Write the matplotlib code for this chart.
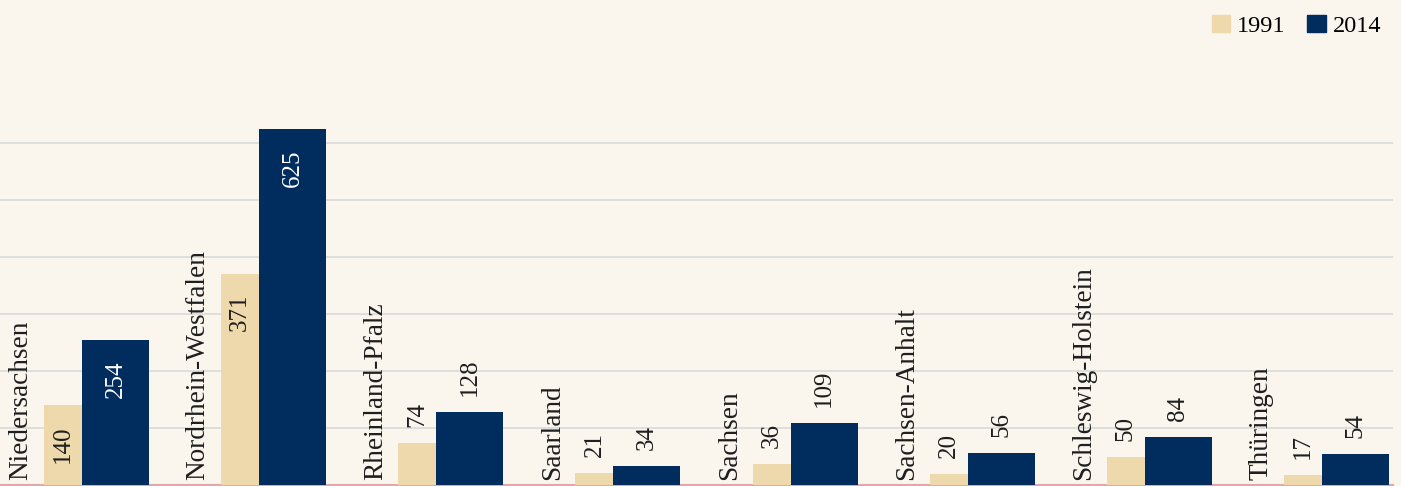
import matplotlib.pyplot as plt
from matplotlib.patches import Patch

laender = ['Niedersachsen', 'Nordrhein-Westfalen', 'Rheinland-Pfalz', 'Saarland',
           'Sachsen', 'Sachsen-Anhalt', 'Schleswig-Holstein', 'Thüringen']
werte_1991 = [140, 371, 74, 21, 36, 20, 50, 17]
werte_2014 = [254, 625, 128, 34, 109, 56, 84, 54]

bg = '#faf6ee'
c1991 = '#edd9ac'
c2014 = '#002d5e'
txt = '#1e1e1e'

plt.rcParams['font.family'] = ['Liberation Serif', 'DejaVu Serif']

fig = plt.figure(figsize=(14.01, 4.86), dpi=100, facecolor=bg)
ax = fig.add_axes([0, 1 / 486, 1393 / 1401, 397 / 486], facecolor=bg)

w1 = 0.2146
w2 = 0.378
x1 = [i for i in range(len(laender))]
x2 = [i + w1 for i in x1]

ax.bar(x1, werte_1991, width=w1, align='edge', color=c1991, zorder=3)
ax.bar(x2, werte_2014, width=w2, align='edge', color=c2014, zorder=3)

ax.set_xlim(-0.2485, 7.6155)
ax.set_ylim(0, 697)
ax.set_yticks([100, 200, 300, 400, 500, 600])
ax.set_xticks([])
ax.yaxis.grid(True, color='#dcdcdc', linewidth=1.3)
ax.tick_params(left=False, labelleft=False)
for s in ['top', 'left', 'right']:
    ax.spines[s].set_visible(False)
ax.spines['bottom'].set_color('#e0a8a8')
ax.spines['bottom'].set_linewidth(1.5)
ax.spines['bottom'].set_zorder(2)


def wert_label(x, v, farbe_innen):
    if v > 130:
        ax.annotate(str(v), (x, v), xytext=(0, -20), textcoords='offset pixels',
                    rotation=90, ha='center', va='top', fontsize=18,
                    color=farbe_innen, zorder=5)
    else:
        ax.annotate(str(v), (x, v), xytext=(0, 16), textcoords='offset pixels',
                    rotation=90, ha='center', va='bottom', fontsize=18,
                    color=txt, zorder=5)


for i, name in enumerate(laender):
    ax.annotate(name, (i - 0.13, 0), xytext=(0, 5), textcoords='offset pixels',
                rotation=90, ha='center', va='bottom', fontsize=19.6, color=txt)
    wert_label(x1[i] + w1 / 2, werte_1991[i], txt)
    wert_label(x2[i] + w2 / 2, werte_2014[i], 'white')

handles = [Patch(color=c1991, label='1991'), Patch(color=c2014, label='2014')]
fig.legend(handles=handles, loc='upper right', bbox_to_anchor=(1396 / 1401, 1.0),
           ncol=2, frameon=False, fontsize=17.5, handlelength=0.75, handleheight=0.75,
           handletextpad=0.3, columnspacing=0.9, borderaxespad=0.2)

fig.savefig('out.png', dpi=100, facecolor=bg)
